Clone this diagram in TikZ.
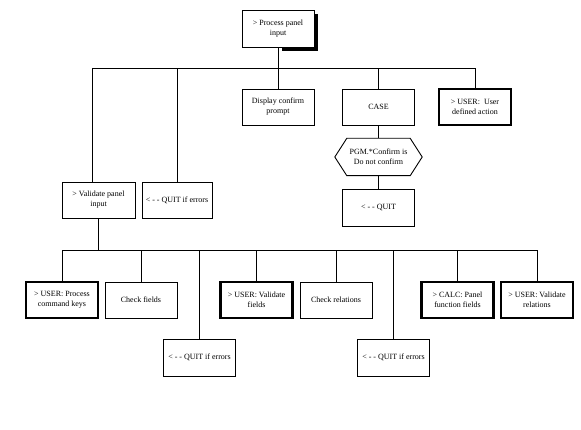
\documentclass[tikz,border=0pt]{standalone}
\usepackage{fontspec}
\setmainfont{Liberation Serif}
\usetikzlibrary{calc}
\begin{document}
\begin{tikzpicture}[x=1pt,y=-1pt,
  box/.style={draw,line width=0.9pt,fill=white,minimum width=72pt,minimum height=36pt,align=center,inner sep=1pt,font=\fontsize{8}{10}\selectfont},
  thickbox/.style={box,line width=2.8pt},
  conn/.style={line width=0.9pt}]
\useasboundingbox (0,0) rectangle (581,430);
% top
\fill (282,14) rectangle (318,51);
\node[box,minimum height=37pt] (top) at (278,28.5) {> Process panel\\input};
\coordinate (b1L) at (92,68);
\coordinate (b1R) at (475,68);
\draw[conn] (top.south) -- (top.south |- b1L);
\draw[conn] (b1L) -- (b1R);
% level 1
\node[box,minimum width=73pt] (valid) at (98.5,200) {> Validate panel\\input};
\node[box,minimum width=70pt] (quit1) at (177,200) {< - - QUIT if errors};
\node[box] (disp) at (278,107) {Display confirm\\prompt};
\node[box] (case) at (378.5,107) {CASE};
\node[thickbox] (userdef) at (475,107) {> USER:\ \ User\\defined action};
\draw[conn] (b1L) -- (b1L |- valid.north);
\draw[conn] (quit1.north) -- (quit1.north |- b1L);
\draw[conn] (disp.north) -- (disp.north |- b1L);
\draw[conn] (case.north) -- (case.north |- b1L);
\draw[conn] (userdef.north) -- (userdef.north |- b1L);
% hexagon
\node[minimum width=87pt,minimum height=37pt,align=center,inner sep=1pt,font=\fontsize{8}{10}\selectfont] (hex) at (378.5,157) {PGM.*Confirm is\\Do not confirm};
\draw[line width=0.9pt] (hex.west) -- ($(hex.north west)+(12,0)$) -- ($(hex.north east)+(-12,0)$) -- (hex.east) -- ($(hex.south east)+(-12,0)$) -- ($(hex.south west)+(12,0)$) -- cycle;
\node[box,minimum height=37pt] (quit2) at (378.5,207.5) {< - - QUIT};
\draw[conn] (case.south) -- (hex.north);
\draw[conn] (hex.south) -- (quit2.north);
% level 2
\coordinate (b2) at (98.5,250);
\draw[conn] (valid.south) -- (b2);
\node[thickbox] (proc) at (62,300) {> USER: Process\\command keys};
\node[box] (checkf) at (141,300) {Check fields};
\node[box,minimum height=37pt] (quit3) at (199.5,357.5) {< - - QUIT if errors};
\node[thickbox] (valf) at (256.5,300) {> USER: Validate\\fields};
\node[box] (checkr) at (336,300) {Check relations};
\node[box,minimum height=37pt] (quit4) at (393.5,357.5) {< - - QUIT if errors};
\node[thickbox] (calc) at (457.5,300) {> CALC: Panel\\function fields};
\node[thickbox] (valr) at (537,300) {> USER: Validate\\relations};
\draw[conn] (proc.north |- b2) -- (valr.north |- b2);
\foreach \n in {proc,checkf,quit3,valf,checkr,quit4,calc,valr}
  \draw[conn] (\n.north) -- (\n.north |- b2);
\end{tikzpicture}
\end{document}
